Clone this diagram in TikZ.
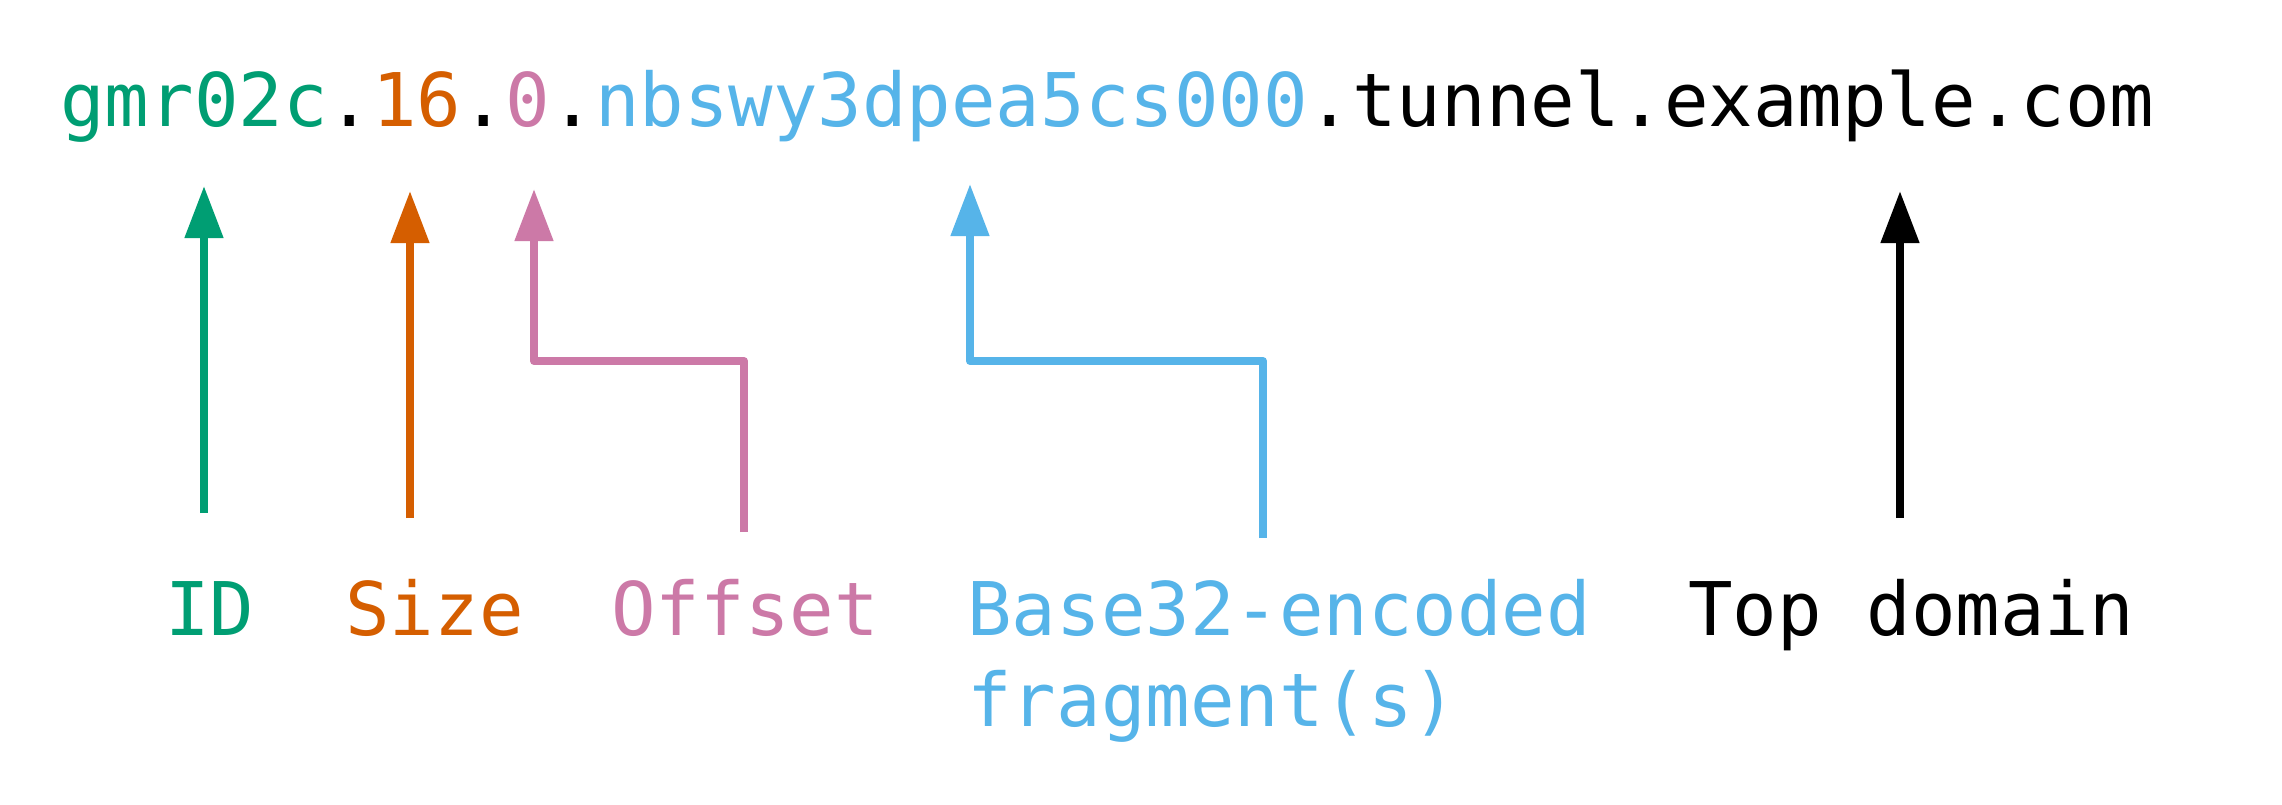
\documentclass[tikz,border=0pt]{standalone}
\usepackage{fontspec}
\setmonofont{DejaVu Sans Mono}
\usetikzlibrary{arrows.meta}
\definecolor{cgreen}{HTML}{009E73}
\definecolor{corange}{HTML}{D55E00}
\definecolor{cpink}{HTML}{CC79A7}
\definecolor{cblue}{HTML}{56B4E9}
\begin{document}
\begin{tikzpicture}[x=0.5pt,y=-0.5pt,
  txt/.style={inner sep=0pt, anchor=base west, font=\fontsize{37}{45.5}\selectfont\ttfamily},
  conn/.style={line width=3.9pt, line join=round, -{Triangle[length=26pt,width=18.5pt]}}]
\path[use as bounding box, fill=white] (0,0) rectangle (2282,804);
\node[txt] (url) at (60,126) {\textcolor{cgreen}{gmr02c}.\textcolor{corange}{16}.\textcolor{cpink}{0}.\textcolor{cblue}{nbswy3dpea5cs000}.tunnel.example.com};
\node[txt, text=cgreen] (id) at (165,635) {ID};
\node[txt, text=corange] (size) at (345,635) {Size};
\node[txt, text=cpink] (offset) at (611,635) {Offset};
\node[txt, text=cblue] (frag) at (967,635) {Base32-encoded};
\node[txt, text=cblue] (frag2) at (967,726) {fragment(s)};
\node[txt, text=black] (top) at (1688,635) {Top domain};
% green
\coordinate (idB) at (204,513);
\coordinate (idT) at (204,186);
\draw[conn, cgreen] (idB) -- (idT);
% orange
\coordinate (szB) at (410,518);
\coordinate (szT) at (410,191);
\draw[conn, corange] (szB) -- (szT);
% pink
\coordinate (ofB) at (744,532);
\coordinate (ofD) at (744,361);
\coordinate (ofC) at (534,361);
\coordinate (ofT) at (534,189);
\draw[conn, cpink] (ofB) -- (ofD) -- (ofC) -- (ofT);
% blue
\coordinate (frB) at (1263,538);
\coordinate (frD) at (1263,361);
\coordinate (frC) at (970,361);
\coordinate (frT) at (970,184);
\draw[conn, cblue] (frB) -- (frD) -- (frC) -- (frT);
% black
\coordinate (tdB) at (1900,518);
\coordinate (tdT) at (1900,191);
\draw[conn, black] (tdB) -- (tdT);
\end{tikzpicture}
\end{document}
